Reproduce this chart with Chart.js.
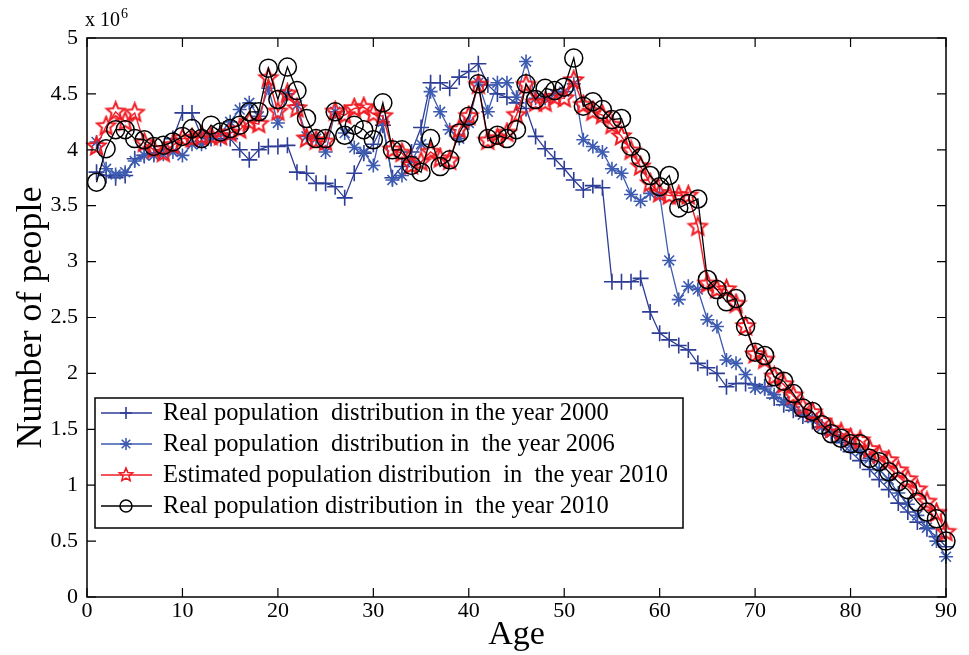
<!DOCTYPE html>
<html>
<head>
<meta charset="utf-8">
<script src="https://cdn.jsdelivr.net/npm/chart.js@4.4.0/dist/chart.umd.min.js"></script>
<style>
html, body { margin: 0; padding: 0; background: #fff; }
</style>
</head>
<body>
<canvas id="grafico" width="969" height="655"></canvas>
<script>
// Ages (x axis)
var edades = [1,2,3,4,5,6,7,8,9,10,11,12,13,14,15,16,17,18,19,20,
              21,22,23,24,25,26,27,28,29,30,31,32,33,34,35,36,37,38,39,40,
              41,42,43,44,45,46,47,48,49,50,51,52,53,54,55,56,57,58,59,60,
              61,62,63,64,65,66,67,68,69,70,71,72,73,74,75,76,77,78,79,80,
              81,82,83,84,85,86,87,88,89,90];

// Number of people, in millions (x 10^6)
var pob2000 = [3.80,3.77,3.75,3.77,3.92,3.95,3.97,4.00,4.10,4.33,
               4.33,4.12,4.10,4.10,4.10,4.00,3.91,4.00,4.03,4.03,
               4.04,3.80,3.79,3.70,3.70,3.67,3.57,3.79,3.97,4.05,
               4.22,3.75,3.85,3.98,4.20,4.60,4.60,4.55,4.65,4.70,
               4.77,4.58,4.50,4.47,4.42,4.37,4.12,4.01,3.92,3.83,
               3.73,3.64,3.68,3.66,2.82,2.82,2.82,2.85,2.55,2.36,
               2.30,2.25,2.21,2.09,2.05,2.00,1.88,1.91,1.91,1.90,
               1.88,1.78,1.72,1.67,1.62,1.57,1.52,1.45,1.38,1.30,
               1.22,1.14,1.05,0.96,0.84,0.76,0.67,0.61,0.54,0.45];

var pob2006 = [4.07,3.83,3.78,3.80,3.90,3.95,3.95,3.96,3.98,3.95,
               4.05,4.05,4.10,4.15,4.25,4.36,4.42,4.30,4.55,4.24,
               4.50,4.40,4.12,4.10,3.98,4.34,4.15,4.02,3.98,3.86,
               4.25,3.73,3.77,3.90,4.05,4.52,4.34,4.18,4.10,4.24,
               4.60,4.34,4.60,4.60,4.47,4.79,4.46,4.46,4.50,4.52,
               4.59,4.09,4.03,3.98,3.83,3.79,3.60,3.54,3.61,3.60,
               3.01,2.66,2.78,2.75,2.48,2.42,2.12,2.09,1.99,1.87,
               1.86,1.81,1.75,1.70,1.63,1.60,1.52,1.47,1.42,1.36,
               1.30,1.24,1.14,1.05,0.93,0.83,0.73,0.62,0.50,0.36];

var est2010 = [4.03,4.21,4.34,4.25,4.33,4.06,4.00,3.97,4.04,4.10,
               4.10,4.12,4.12,4.12,4.15,4.18,4.25,4.23,4.64,4.34,
               4.50,4.37,4.10,4.08,4.07,4.34,4.31,4.37,4.38,4.32,
               4.30,4.00,3.97,3.86,3.89,3.98,3.92,3.90,4.18,4.30,
               4.58,4.08,4.10,4.15,4.31,4.58,4.42,4.42,4.47,4.46,
               4.62,4.40,4.34,4.31,4.22,4.12,3.99,3.85,3.70,3.61,
               3.59,3.59,3.59,3.31,2.80,2.75,2.75,2.62,2.42,2.17,
               2.12,1.97,1.90,1.80,1.70,1.65,1.57,1.50,1.47,1.42,
               1.40,1.32,1.27,1.22,1.13,1.05,0.96,0.85,0.75,0.58];

var pob2010 = [3.71,4.01,4.18,4.18,4.10,4.09,4.03,4.04,4.07,4.12,
               4.19,4.10,4.22,4.16,4.19,4.22,4.34,4.34,4.73,4.45,
               4.74,4.53,4.28,4.10,4.10,4.34,4.13,4.22,4.18,4.09,
               4.42,4.00,4.00,3.86,3.80,4.10,3.85,3.91,4.15,4.30,
               4.59,4.10,4.13,4.10,4.18,4.59,4.45,4.55,4.53,4.56,
               4.82,4.39,4.43,4.36,4.27,4.28,4.03,3.93,3.77,3.67,
               3.77,3.48,3.52,3.56,2.84,2.75,2.64,2.67,2.42,2.19,
               2.16,1.97,1.93,1.82,1.69,1.66,1.54,1.46,1.42,1.37,
               1.37,1.24,1.21,1.12,1.03,0.96,0.85,0.76,0.70,0.50];

var etiquetas = ['Real population  distribution in the year 2000',
                 'Real population  distribution in  the year 2006',
                 'Estimated population distribution  in  the year 2010',
                 'Real population distribution in  the year 2010'];

var xTicks = [0,10,20,30,40,50,60,70,80,90];
var yTicks = [0,0.5,1,1.5,2,2.5,3,3.5,4,4.5,5];

var fuente = '"Liberation Serif", "Times New Roman", serif';

function puntos(valores) {
    return edades.map(function (e, i) { return { x: e, y: valores[i] }; });
}

// hollow five-pointed star marker
function estrella(color, r, lw) {
    var c = document.createElement('canvas');
    var s = Math.ceil(r * 2 + 4);
    c.width = s; c.height = s;
    var g = c.getContext('2d');
    g.strokeStyle = color;
    g.lineWidth = lw;
    g.lineJoin = 'miter';
    g.beginPath();
    for (var i = 0; i < 10; i++) {
        var ang = -Math.PI / 2 + i * Math.PI / 5;
        var rr = i % 2 === 0 ? r : r * 0.45;
        g.lineTo(s / 2 + rr * Math.cos(ang), s / 2 + rr * Math.sin(ang));
    }
    g.closePath();
    g.stroke();
    return c;
}

var marcaEstrella = estrella('#f01c24', 9.5, 2);
var marcaLeyenda = estrella('#f01c24', 7, 1.6);

// frame, inward ticks, exponent and legend
var marco = {
    id: 'marco',
    afterDraw: function (chart) {
        var ctx = chart.ctx;
        var a = chart.chartArea;
        var sx = chart.scales.x, sy = chart.scales.y;
        ctx.save();
        ctx.strokeStyle = '#000';
        ctx.lineWidth = 1.5;
        ctx.strokeRect(a.left, a.top, a.right - a.left, a.bottom - a.top);
        ctx.lineWidth = 1.2;
        ctx.beginPath();
        xTicks.forEach(function (v) {
            var px = sx.getPixelForValue(v);
            ctx.moveTo(px, a.bottom); ctx.lineTo(px, a.bottom - 9);
            ctx.moveTo(px, a.top); ctx.lineTo(px, a.top + 9);
        });
        yTicks.forEach(function (v) {
            var py = sy.getPixelForValue(v);
            ctx.moveTo(a.left, py); ctx.lineTo(a.left + 9, py);
            ctx.moveTo(a.right, py); ctx.lineTo(a.right - 9, py);
        });
        ctx.stroke();

        // x 10^6
        ctx.fillStyle = '#000';
        ctx.textBaseline = 'alphabetic';
        ctx.textAlign = 'left';
        ctx.font = '20px ' + fuente;
        ctx.fillText('x 10', a.left - 2, a.top - 12);
        var w = ctx.measureText('x 10').width;
        ctx.font = '14px ' + fuente;
        ctx.fillText('6', a.left - 2 + w + 1, a.top - 20);

        // legend box
        var lx = 95, ly = 398, lw = 588, lh = 130;
        ctx.fillStyle = '#fff';
        ctx.fillRect(lx, ly, lw, lh);
        ctx.lineWidth = 1.5;
        ctx.strokeStyle = '#000';
        ctx.strokeRect(lx, ly, lw, lh);
        chart.data.datasets.forEach(function (ds, i) {
            var y = ly + 15 + i * 31;
            ctx.strokeStyle = ds.borderColor;
            ctx.lineWidth = ds.borderWidth;
            ctx.beginPath();
            ctx.moveTo(101, y); ctx.lineTo(152, y);
            ctx.stroke();
            ctx.fillStyle = 'rgba(0,0,0,0)';
            ctx.strokeStyle = ds.pointBorderColor;
            ctx.lineWidth = ds.pointBorderWidth;
            Chart.helpers.drawPoint(ctx, {
                pointStyle: i === 2 ? marcaLeyenda : ds.pointStyle,
                radius: 6,
                rotation: 0,
                borderWidth: ds.pointBorderWidth
            }, 126, y);
            ctx.fillStyle = '#000';
            ctx.font = '24.5px ' + fuente;
            ctx.textBaseline = 'middle';
            ctx.fillText(etiquetas[i], 163, y + 1);
        });
        ctx.restore();
    }
};

var ctx = document.getElementById('grafico').getContext('2d');
var grafico = new Chart(ctx, {
    type: 'line',
    data: {
        datasets: [{
            label: etiquetas[0],
            data: puntos(pob2000),
            borderColor: '#2d3d96',
            borderWidth: 1.3,
            pointStyle: 'cross',
            pointRadius: 8,
            pointBorderColor: '#2d3d96',
            pointBorderWidth: 1.6,
            order: 3
        }, {
            label: etiquetas[1],
            data: puntos(pob2006),
            borderColor: '#3d5bb0',
            borderWidth: 1.3,
            pointStyle: 'star',
            pointRadius: 7,
            pointBorderColor: '#3d5bb0',
            pointBorderWidth: 1.6,
            order: 2
        }, {
            label: etiquetas[2],
            data: puntos(est2010),
            borderColor: '#f01c24',
            borderWidth: 1.4,
            pointStyle: marcaEstrella,
            pointRadius: 9,
            pointBorderColor: '#f01c24',
            pointBorderWidth: 2,
            order: 1
        }, {
            label: etiquetas[3],
            data: puntos(pob2010),
            borderColor: '#000000',
            borderWidth: 1.3,
            pointStyle: 'circle',
            pointRadius: 9,
            pointBackgroundColor: 'rgba(0,0,0,0)',
            pointBorderColor: '#000000',
            pointBorderWidth: 1.5,
            order: 0
        }]
    },
    options: {
        responsive: false,
        animation: false,
        layout: { padding: { top: 38, right: 23, left: 0, bottom: 0 } },
        elements: { line: { tension: 0 } },
        datasets: { line: { clip: false } },
        plugins: {
            legend: { display: false },
            tooltip: { enabled: false }
        },
        scales: {
            x: {
                type: 'linear',
                min: 0,
                max: 90,
                afterFit: function (s) { s.height = 58; },
                afterBuildTicks: function (s) { s.ticks = xTicks.map(function (v) { return { value: v }; }); },
                grid: { display: false, drawTicks: false },
                border: { display: false },
                ticks: { color: '#000', font: { family: fuente, size: 22 }, padding: 1, maxRotation: 0 },
                title: { display: true, text: 'Age', color: '#000', font: { family: fuente, size: 34 }, padding: 0 }
            },
            y: {
                type: 'linear',
                min: 0,
                max: 5,
                afterFit: function (s) { s.width = 87; },
                afterBuildTicks: function (s) { s.ticks = yTicks.map(function (v) { return { value: v }; }); },
                grid: { display: false, drawTicks: false },
                border: { display: false },
                ticks: { color: '#000', font: { family: fuente, size: 22 }, padding: 9,
                         callback: function (v) { return String(v); } },
                title: { display: true, text: 'Number of people', color: '#000', font: { family: fuente, size: 36 }, padding: { top: 10, bottom: 0 } }
            }
        }
    },
    plugins: [marco]
});
</script>
</body>
</html>
